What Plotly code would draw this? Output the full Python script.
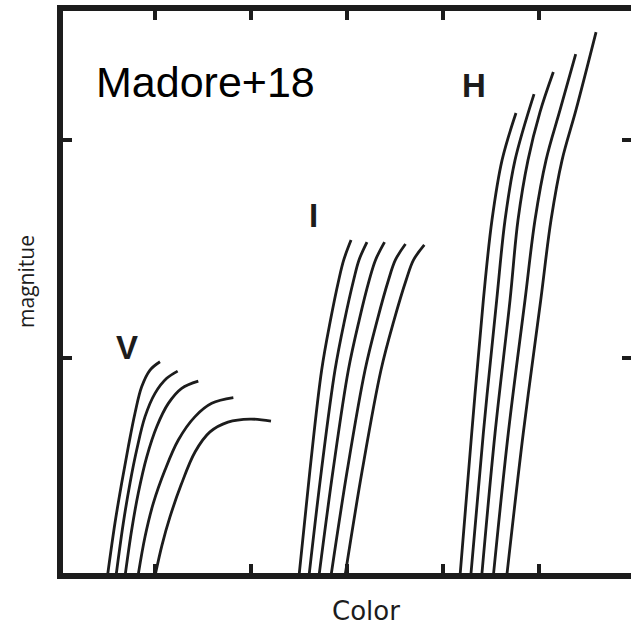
import plotly.graph_objects as go

# ---- data (x: color, y: magnitude, in axis units) ----
v_x = [
    [0.505, 0.583, 0.653, 0.722, 0.792, 0.861, 0.948, 1.052],
    [0.594, 0.670, 0.740, 0.809, 0.896, 1.000, 1.122, 1.236],
    [0.688, 0.757, 0.826, 0.914, 1.018, 1.139, 1.278, 1.451],
    [0.823, 0.896, 0.982, 1.104, 1.243, 1.417, 1.591, 1.816],
    [1.000, 1.073, 1.156, 1.271, 1.417, 1.573, 1.760, 1.990, 2.208],
]
v_y = [
    [0.0, 0.243, 0.427, 0.593, 0.748, 0.868, 0.945, 0.983],
    [0.0, 0.243, 0.427, 0.578, 0.731, 0.838, 0.907, 0.940],
    [0.0, 0.211, 0.381, 0.547, 0.685, 0.792, 0.861, 0.894],
    [0.0, 0.180, 0.333, 0.486, 0.624, 0.731, 0.792, 0.818],
    [0.0, 0.142, 0.271, 0.417, 0.569, 0.661, 0.706, 0.720, 0.711],
]
i_x = [
    [2.500, 2.614, 2.736, 2.828, 2.914, 2.966, 3.042],
    [2.604, 2.734, 2.875, 2.975, 3.069, 3.125, 3.208],
    [2.708, 2.855, 3.014, 3.127, 3.232, 3.297, 3.391],
    [2.833, 3.003, 3.188, 3.315, 3.432, 3.504, 3.609],
    [2.979, 3.159, 3.354, 3.490, 3.616, 3.693, 3.805],
]
i_y = [
    [0.0, 0.486, 0.945, 1.174, 1.358, 1.450, 1.541],
    [0.0, 0.486, 0.945, 1.174, 1.358, 1.450, 1.532],
    [0.0, 0.486, 0.945, 1.174, 1.358, 1.450, 1.532],
    [0.0, 0.486, 0.945, 1.174, 1.358, 1.450, 1.523],
    [0.0, 0.486, 0.945, 1.174, 1.358, 1.450, 1.519],
]
h_x = [
    [4.177, 4.299, 4.420, 4.510, 4.615, 4.760],
    [4.289, 4.420, 4.559, 4.646, 4.750, 4.948],
    [4.403, 4.542, 4.698, 4.781, 4.885, 5.010, 5.149],
    [4.524, 4.680, 4.854, 4.958, 5.073, 5.219, 5.382],
    [4.664, 4.836, 5.018, 5.125, 5.240, 5.385, 5.594],
]
h_y = [
    [0.0, 0.656, 1.266, 1.633, 1.908, 2.124],
    [0.0, 0.656, 1.266, 1.633, 1.908, 2.211],
    [0.0, 0.656, 1.266, 1.633, 1.908, 2.128, 2.312],
    [0.0, 0.656, 1.266, 1.633, 1.908, 2.138, 2.394],
    [0.0, 0.656, 1.266, 1.633, 1.908, 2.138, 2.495],
]
band_labels = ["V", "I", "H"]
band_label_x = [0.708, 2.646, 4.318]
band_label_y = [1.050, 1.654, 2.252]
x_ticks = [1, 2, 3, 4, 5]
y_ticks = [1, 2]
x_range = [0.0417, 5.958]
y_range = [0.0138, 2.592]

INK = "#1c1c1c"
fig = go.Figure()
for xs_list, ys_list in [(v_x, v_y), (i_x, i_y), (h_x, h_y)]:
    for xs, ys in zip(xs_list, ys_list):
        fig.add_trace(go.Scatter(
            x=xs, y=ys, mode="lines",
            line=dict(color=INK, width=2.8, shape="spline", smoothing=1.0),
            showlegend=False, hoverinfo="skip"))

# dummy trace for mirrored axes
fig.add_trace(go.Scatter(x=[None], y=[None], xaxis="x2", yaxis="y2",
                         mode="lines", showlegend=False, hoverinfo="skip"))

axis_common = dict(showgrid=False, zeroline=False, showticklabels=False,
                   ticks="inside", ticklen=9, tickwidth=4, tickcolor=INK,
                   linecolor=INK, linewidth=6)

fig.update_layout(
    width=631, height=626,
    margin=dict(l=63, r=0, t=11, b=53),
    paper_bgcolor="white", plot_bgcolor="white",
    xaxis=dict(range=x_range, tickvals=x_ticks, showline=True, **axis_common),
    yaxis=dict(range=y_range, tickvals=y_ticks, showline=True, **axis_common),
    xaxis2=dict(range=x_range, tickvals=x_ticks, showline=True, overlaying="x",
                side="top", anchor="y", **axis_common),
    yaxis2=dict(range=y_range, tickvals=y_ticks, showline=False, overlaying="y",
                side="right", anchor="x", **axis_common),
)

annotations = [
    dict(text="Madore+18", x=1.521, y=2.266, xref="x", yref="y",
         xanchor="center", yanchor="middle",
         showarrow=False, font=dict(family="Liberation Sans, Arial", size=43, color="black")),
    dict(text="Color", x=0.5335, y=-0.0676, xref="paper", yref="paper",
         xanchor="center", yanchor="middle",
         showarrow=False, font=dict(family="DejaVu Sans", size=26, color=INK)),
    dict(text="magnitue", x=-0.0651, y=0.518, xref="paper", yref="paper", textangle=-90,
         xanchor="center", yanchor="middle",
         showarrow=False, font=dict(family="Open Sans", size=21, color=INK)),
]
for lab, lx, ly in zip(band_labels, band_label_x, band_label_y):
    annotations.append(dict(text="<b>" + lab + "</b>", x=lx, y=ly, xref="x", yref="y",
                            xanchor="center", yanchor="middle", showarrow=False,
                            font=dict(family="Liberation Sans Narrow, Liberation Sans",
                                      size=33, color=INK)))
fig.update_layout(annotations=annotations)

fig.write_html("out.html")
